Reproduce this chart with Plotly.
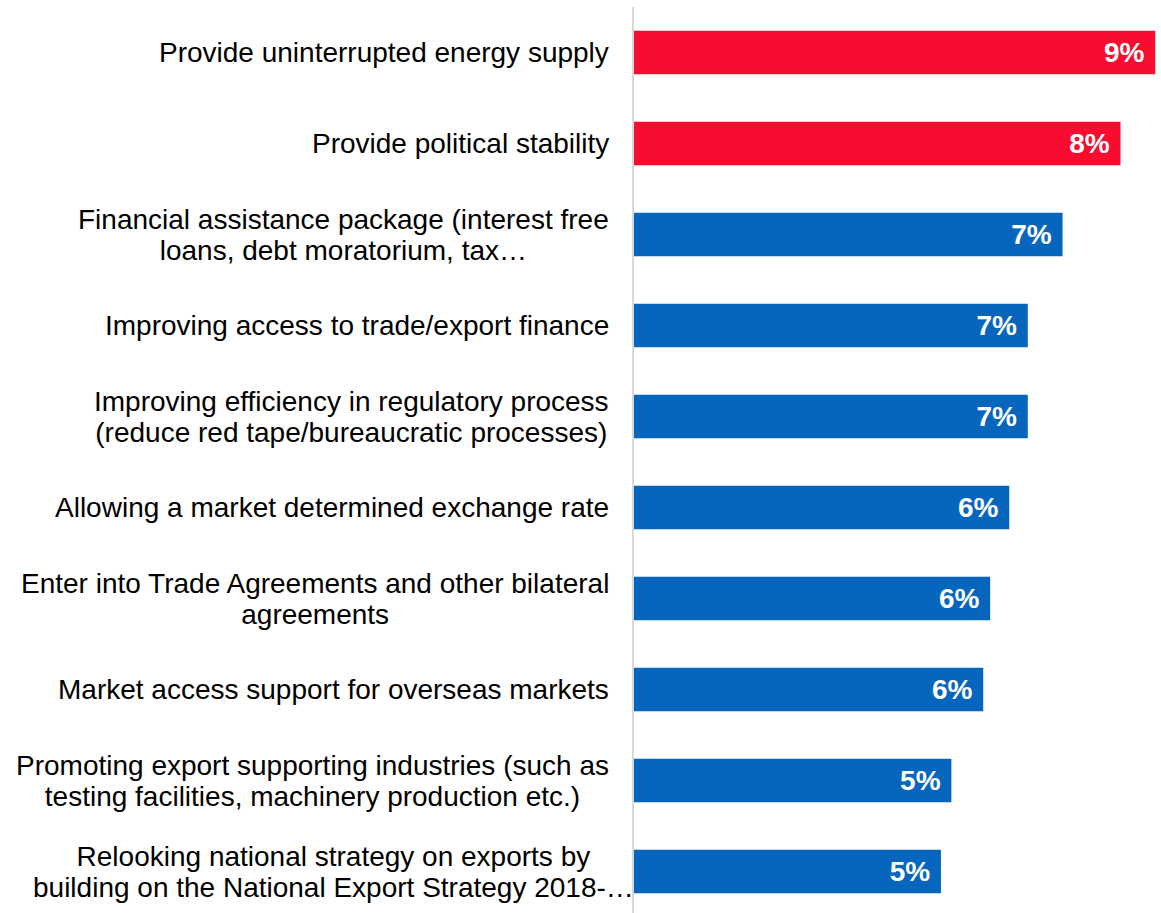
import plotly.graph_objects as go

# Survey responses: share of respondents choosing each government support measure (%)
measures = [
    "Provide uninterrupted energy supply",
    "Provide political stability",
    "Financial assistance package (interest free<br>loans, debt moratorium, tax…",
    "Improving access to trade/export finance",
    "Improving efficiency in regulatory process<br>(reduce red tape/bureaucratic processes)",
    "Allowing a market determined exchange rate",
    "Enter into Trade Agreements and other bilateral<br>agreements",
    "Market access support for overseas markets",
    "Promoting export supporting industries (such as<br>testing facilities, machinery production etc.)",
    "Relooking national strategy on exports by<br>building on the National Export Strategy 2018-…",
]
shares = [9.0, 8.4, 7.4, 6.8, 6.8, 6.48, 6.15, 6.03, 5.48, 5.3]
highlight = [True, True, False, False, False, False, False, False, False, False]

RED = "#F80D31"
BLUE = "#0666BE"
FONT = "Liberation Sans, Arial, sans-serif"

fig = go.Figure(
    go.Bar(
        x=shares,
        y=list(range(len(measures))),
        orientation="h",
        marker=dict(color=[RED if h else BLUE for h in highlight], line=dict(width=0)),
        texttemplate="<b>%{x:.0f}%</b>\u00a0",
        textposition="inside",
        insidetextanchor="end",
        textfont=dict(family=FONT, size=28, color="white"),
        width=0.48,
        hoverinfo="skip",
    )
)

# Category labels as centred multi-line text blocks to the left of the axis.
# The base font size sets the (tighter) line spacing; the span sets glyph size.
for i, label in enumerate(measures):
    last = i == len(measures) - 1
    lines = label.split("<br>")
    text = "<br>".join(f'<span style="font-size:28px">{ln}</span>' for ln in lines)
    fig.add_annotation(
        x=0, xref="paper", y=i, yref="y",
        text=text, showarrow=False,
        xanchor="right", yanchor="middle", align="center",
        xshift=2 if last else -23,
        font=dict(family=FONT, size=24, color="#000000"),
    )

fig.update_layout(
    width=1161, height=913,
    margin=dict(l=634, r=0, t=7, b=0),
    paper_bgcolor="white", plot_bgcolor="white",
    showlegend=False,
    uniformtext=dict(mode=False),
    xaxis=dict(range=[0, 9.1], visible=False, fixedrange=True),
    yaxis=dict(
        range=[9.456, -0.5], showticklabels=False, showgrid=False, zeroline=False,
        showline=True, linecolor="#D9D9D9", linewidth=2, ticks="",
    ),
)

fig.write_html("out.html")
